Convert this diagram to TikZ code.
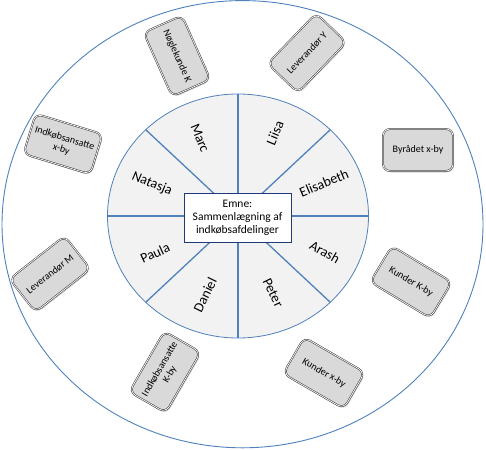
\documentclass[tikz,border=0pt]{standalone}
\usepackage{fontspec}
\setmainfont{Carlito}
\usetikzlibrary{shadows}
\definecolor{officeblue}{HTML}{4F81BD}
\definecolor{sectorfill}{HTML}{F2F2F2}
\definecolor{boxfill}{HTML}{D9D9D9}
\definecolor{navyline}{HTML}{1F3A7A}
\tikzset{
  outerring/.style={draw=officeblue, line width=0.9pt},
  innerdisc/.style={draw=officeblue, fill=sectorfill, line width=0.8pt},
  divider/.style={draw=officeblue, line width=1.3pt},
  stakebox/.style={draw=black!75, double=white, double distance=0.7pt, line width=0.55pt,
    fill=boxfill, rounded corners=7pt, minimum width=70pt, minimum height=42pt,
    align=center, font=\fontsize{10}{11.5}\selectfont, inner sep=2pt,
    drop shadow={opacity=0.35, shadow xshift=1pt, shadow yshift=-1.5pt}},
  namelabel/.style={font=\fontsize{14}{16}\selectfont, inner sep=0pt},
  topicbox/.style={draw=navyline, fill=white, line width=0.8pt, minimum width=107pt,
    minimum height=49pt, align=center, font=\fontsize{11.5}{13}\selectfont, inner sep=1pt}
}
\begin{document}
\begin{tikzpicture}[x=1pt,y=-1pt]
\useasboundingbox (0,0) rectangle (486,449);
% outer ring
\draw[outerring] (242.5,224.2) ellipse [x radius=240.5pt, y radius=223.6pt];
% inner disc
\coordinate (c) at (238,216);
\draw[innerdisc] (c) ellipse [x radius=130.5pt, y radius=122pt];
\coordinate (vt) at (238,94);
\coordinate (vb) at (238,338);
\coordinate (hl) at (107.5,216);
\coordinate (hr) at (368.5,216);
\coordinate (d1) at (330.3,129.7);
\coordinate (d2) at (145.7,302.3);
\coordinate (d3) at (145.7,129.7);
\coordinate (d4) at (330.3,302.3);
\draw[divider] (vt) -- (vb);
\draw[divider] (hl) -- (hr);
\draw[divider] (d1) -- (d2);
\draw[divider] (d3) -- (d4);
% names
\node[namelabel, rotate=-67.5] (marc) at (200,138) {Marc};
\node[namelabel, rotate=67.5] (liisa) at (275,133) {Liisa};
\node[namelabel, rotate=22.5] (elisabeth) at (324,183) {Elisabeth};
\node[namelabel, rotate=-30] (arash) at (325,252) {Arash};
\node[namelabel, rotate=-64] (peter) at (273,293) {Peter};
\node[namelabel, rotate=64] (daniel) at (205,295) {Daniel};
\node[namelabel, rotate=25] (paula) at (155,253) {Paula};
\node[namelabel, rotate=-23] (natasja) at (152,184) {Natasja};
% topic
\node[topicbox] (topic) at (237.5,217.5) {Emne:\\Sammenlægning af\\indkøbsafdelinger};
% stakeholder boxes
\node[stakebox, rotate=-66] (b1) at (177,56) {Nøglekunde K};
\node[stakebox, rotate=46] (b2) at (307,53) {Leverandør Y};
\node[stakebox] (b3) at (418,150) {Byrådet x-by};
\node[stakebox, rotate=-31] (b4) at (411,282) {Kunder K-by};
\node[stakebox, rotate=-30] (b5) at (324,373) {Kunder x-by};
\node[stakebox, rotate=60] (b6) at (165,372) {Indkøbsansatte\\K-by};
\node[stakebox, rotate=38] (b7) at (50,274) {Leverandør M};
\node[stakebox, rotate=-17] (b8) at (63,144) {Indkøbsansatte\\x-by};
\end{tikzpicture}
\end{document}
